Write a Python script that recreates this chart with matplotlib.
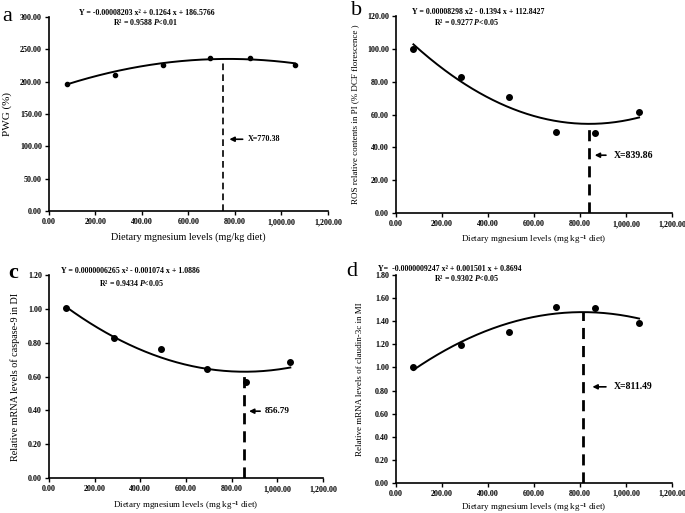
import numpy as np
import matplotlib
matplotlib.use("Agg")
import matplotlib.pyplot as plt
from matplotlib.ticker import FuncFormatter, MultipleLocator

plt.rcParams['font.family'] = ['Liberation Serif', 'DejaVu Serif']
plt.rcParams['font.weight'] = 'bold'
plt.rcParams['mathtext.fontset'] = 'custom'
plt.rcParams['mathtext.rm'] = 'Liberation Serif:bold'
plt.rcParams['mathtext.it'] = 'Liberation Serif:italic:bold'
plt.rcParams['mathtext.bf'] = 'Liberation Serif:bold'

# dietary Mg levels (same for all panels)
mg_levels = [76, 283, 490, 694, 865, 1057]

# measured values
pwg = [196.5, 211, 226.5, 236, 237, 225.5]
ros = [99.7, 82.6, 70.8, 49.6, 49.0, 61.6]
casp9 = [1.006, 0.829, 0.76, 0.647, 0.568, 0.685]
cldn3c = [1.003, 1.19, 1.306, 1.523, 1.517, 1.381]

# quadratic fits shown on the chart (a, b, c, d)
coef_a = [-0.00008203, 0.1264, 186.5766]
coef_b = [0.00008298, -0.1394, 112.8427]
coef_c = [0.0000006265, -0.001074, 1.0886]
coef_d = [-0.0000009247, 0.001501, 0.8694]

# where the dashed optimum lines are drawn
opt_x = [750, 838, 855, 815]

eq_a = ["Y = -0.00008203 x² + 0.1264 x + 186.5766", r"R² = 0.9588 $P$<0.01"]
eq_b = ["Y = 0.00008298 x2 - 0.1394 x + 112.8427", r"R² = 0.9277 $P$<0.05"]
eq_c = ["Y = 0.0000006265 x² - 0.001074 x + 1.0886", r"R² = 0.9434 $P$<0.05"]
eq_d = ["Y=  -0.0000009247 x² + 0.001501 x + 0.8694", r"R² = 0.9302 $P$<0.05"]

fig = plt.figure(figsize=(6.85, 5.13), dpi=100)

xl_a = "Dietary mgnesium levels (mg/kg diet)"
xl_b = r"Dietary mgnesium levels (mg kg$^{-1}$ diet)"

panels = [
    dict(rect=[0.0715, 0.5887, 0.4073, 0.378], y=pwg, coef=coef_a, ymax=300, step=50,
         ylabel="PWG (%)", ylfs=8, xlabel=xl_a, xlfs=7.3, xly=-0.111,
         eq=eq_a, eqpos=[(0.351, 1.02), (0.344, 0.975)],
         arr=(111, 764, 845), lab="X=770.38", labfs=5.8, labx=857,
         letter="a", lpos=(0.003, 0.959), ms=3, dlw=1.2, ylx=-0.133),
    dict(rect=[0.578, 0.5848, 0.403, 0.384], y=ros, coef=coef_b, ymax=120, step=20,
         ylabel="ROS relative contents in PI (% DCF florescence )", ylfs=6.5,
         xlabel=xl_b, xlfs=6.5, xly=-0.104,
         eq=eq_b, eqpos=[(0.30, 1.02), (0.257, 0.97)],
         arr=(35.2, 852, 925), lab="X=839.86", labfs=7, labx=946,
         letter="b", lpos=(0.513, 0.971), ms=4, dlw=2.0, ylx=-0.134),
    dict(rect=[0.0715, 0.0682, 0.40, 0.3957], y=casp9, coef=coef_c, ymax=1.2, step=0.2,
         ylabel="Relative mRNA levels of caspase-9 in DI", ylfs=7.3,
         xlabel=xl_b, xlfs=6.5, xly=-0.104,
         eq=eq_c, eqpos=[(0.296, 1.02), (0.30, 0.96)],
         arr=(0.395, 864, 937), lab="856.79", labfs=6.6, labx=944,
         letter="c", lpos=(0.012, 0.458), ms=4, dlw=2.0, ylx=-0.106),
    dict(rect=[0.578, 0.0585, 0.403, 0.4055], y=cldn3c, coef=coef_d, ymax=1.8, step=0.2,
         ylabel="Relative mRNA levels of claudin-3c in MI", ylfs=6.5,
         xlabel=xl_b, xlfs=6.5, xly=-0.086,
         eq=eq_d, eqpos=[(0.196, 1.028), (0.257, 0.985)],
         arr=(0.832, 842, 925), lab="X=811.49", labfs=7, labx=946,
         letter="d", lpos=(0.506, 0.462), ms=4, dlw=2.0, ylx=-0.116),
]

xfmt = FuncFormatter(lambda v, p: f"{v:,.2f}")
yfmt = FuncFormatter(lambda v, p: f"{v:.2f}")

for i, p in enumerate(panels):
    ax = fig.add_axes(p["rect"])
    xs = np.linspace(mg_levels[0], mg_levels[-1], 200)
    ax.plot(xs, np.polyval(p["coef"], xs), color="black", lw=1.4)
    ax.plot(mg_levels, p["y"], "o", color="black", ms=p["ms"])

    xo = opt_x[i]
    ax.plot([xo, xo], [0, np.polyval(p["coef"], xo)], color="black", lw=p["dlw"],
            ls=(0, (4, 2.5)))

    ay, tip, tail = p["arr"]
    ax.annotate("", xy=(tip, ay), xytext=(tail, ay),
                arrowprops=dict(arrowstyle="-|>", color="black", lw=1.2, mutation_scale=7))
    ax.text(p["labx"], ay, p["lab"], fontsize=p["labfs"], va="center", ha="left")

    ax.set_xlim(0, 1200)
    ax.set_ylim(0, p["ymax"])
    ax.xaxis.set_major_locator(MultipleLocator(200))
    ax.yaxis.set_major_locator(MultipleLocator(p["step"]))
    ax.xaxis.set_major_formatter(xfmt)
    ax.yaxis.set_major_formatter(yfmt)
    ax.tick_params(labelsize=5.8, length=3, width=1, direction="out", pad=2)
    for s in ["top", "right"]:
        ax.spines[s].set_visible(False)
    for s in ["left", "bottom"]:
        ax.spines[s].set_linewidth(1.2)

    ax.set_xlabel(p["xlabel"], fontsize=p["xlfs"])
    ax.set_ylabel(p["ylabel"], fontsize=p["ylfs"])
    ax.xaxis.set_label_coords(0.5, p["xly"])
    ax.yaxis.set_label_coords(p["ylx"], 0.5)

    for (tx, ty), line in zip(p["eqpos"], p["eq"]):
        ax.text(tx, ty, line, transform=ax.transAxes, fontsize=5.7, ha="center", va="center")

    fig.text(p["lpos"][0], p["lpos"][1], p["letter"], fontsize=16,
             fontweight="bold" if p["letter"] == "c" else "normal", va="baseline")

fig.savefig("out.png", dpi=100)
